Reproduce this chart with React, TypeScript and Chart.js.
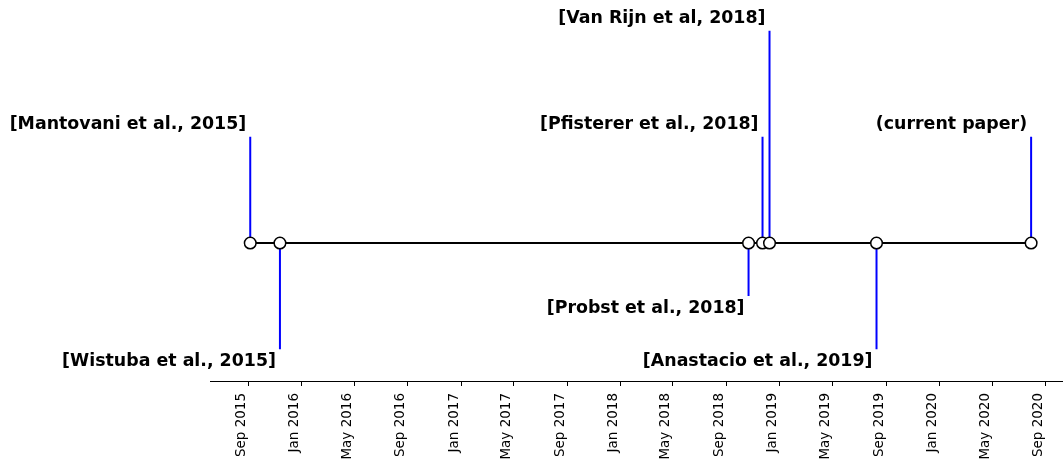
import React, { useEffect, useRef } from "react";
import { Chart, registerables } from "chart.js";

Chart.register(...registerables);

// ---- data ----
const eventLabels = [
  "[Mantovani et al., 2015]",
  "[Wistuba et al., 2015]",
  "[Probst et al., 2018]",
  "[Pfisterer et al., 2018]",
  "[Van Rijn et al, 2018]",
  "[Anastacio et al., 2019]",
  "(current paper)",
];
const eventDates = [
  "2015-09-06",
  "2015-11-13",
  "2018-10-21",
  "2018-11-22",
  "2018-12-08",
  "2019-08-10",
  "2020-07-29",
];
const eventLevels = [1, -1, -0.5, 1, 2, -1, 1];

const tickDates = [
  "2015-09-01", "2016-01-01", "2016-05-01", "2016-09-01",
  "2017-01-01", "2017-05-01", "2017-09-01", "2018-01-01",
  "2018-05-01", "2018-09-01", "2019-01-01", "2019-05-01",
  "2019-09-01", "2020-01-01", "2020-05-01", "2020-09-01",
];
const tickLabels = [
  "Sep 2015", "Jan 2016", "May 2016", "Sep 2016",
  "Jan 2017", "May 2017", "Sep 2017", "Jan 2018",
  "May 2018", "Sep 2018", "Jan 2019", "May 2019",
  "Sep 2019", "Jan 2020", "May 2020", "Sep 2020",
];
const axisStart = "2015-06-07";
const axisEnd = "2020-10-10";

const toDay = (s: string) => Date.parse(s + "T00:00:00Z") / 86400000;

const labelPlugin = {
  id: "eventLabels",
  afterDatasetsDraw(chart: any) {
    const { ctx, scales } = chart;
    const xs = scales.x;
    const ys = scales.y;
    ctx.save();
    ctx.font = 'bold 17.4px "DejaVu Sans"';
    ctx.fillStyle = "#000000";
    ctx.textAlign = "right";
    ctx.textBaseline = "alphabetic";
    eventLabels.forEach((t, i) => {
      const px = xs.getPixelForValue(toDay(eventDates[i]));
      const py = ys.getPixelForValue(eventLevels[i]);
      const by = eventLevels[i] > 0 ? py - 8 : py + 17;
      ctx.fillText(t, px - 4, by);
    });
    ctx.restore();
  },
};

export default function App() {
  const ref = useRef<HTMLCanvasElement | null>(null);

  useEffect(() => {
    if (!ref.current) return;
    Chart.defaults.font.family = '"DejaVu Sans"';
    const stemSets = eventDates.map((d, i) => ({
      type: "line" as const,
      data: [
        { x: toDay(d), y: 0 },
        { x: toDay(d), y: eventLevels[i] },
      ],
      borderColor: "#0000ff",
      borderWidth: 2,
      pointRadius: 0,
      fill: false,
      order: 1,
    }));
    const chart = new Chart(ref.current, {
      type: "line",
      data: {
        datasets: [
          {
            data: eventDates.map((d) => ({ x: toDay(d), y: 0 })),
            borderColor: "#000000",
            borderWidth: 2.2,
            pointRadius: 5.8,
            pointBackgroundColor: "#ffffff",
            pointBorderColor: "#000000",
            pointBorderWidth: 1.5,
            fill: false,
            order: 0,
          },
          ...stemSets,
        ],
      },
      options: {
        animation: false,
        responsive: false,
        devicePixelRatio: 1,
        layout: {
          autoPadding: false,
          padding: { left: 210.5, right: 0, top: 9.5, bottom: 0 },
        },
        plugins: {
          legend: { display: false },
          tooltip: { enabled: false },
        },
        scales: {
          x: {
            type: "linear",
            min: toDay(axisStart),
            max: toDay(axisEnd),
            afterBuildTicks: (s: any) => {
              s.ticks = tickDates.map((d) => ({ value: toDay(d) }));
            },
            afterFit: (s: any) => {
              s.height = 79;
              s.paddingLeft = 0;
              s.paddingRight = 0;
            },
            ticks: {
              autoSkip: false,
              minRotation: 90,
              maxRotation: 90,
              padding: 7,
              labelOffset: -7,
              color: "#000000",
              font: { family: '"DejaVu Sans"', size: 13.5 },
              callback: (_v: any, i: number) => tickLabels[i],
            },
            grid: {
              display: true,
              drawOnChartArea: false,
              drawTicks: true,
              tickLength: 5,
              tickColor: "#000000",
              tickWidth: 1,
            },
            border: { display: true, color: "#000000", width: 1 },
          },
          y: {
            type: "linear",
            display: false,
            min: -1.3,
            max: 2.2,
          },
        },
      },
      plugins: [labelPlugin],
    } as any);
    return () => chart.destroy();
  }, []);

  return (
    <div style={{ position: "absolute", left: 0, top: 0, width: 1063, height: 460 }}>
      <canvas ref={ref} width={1063} height={460} />
    </div>
  );
}
